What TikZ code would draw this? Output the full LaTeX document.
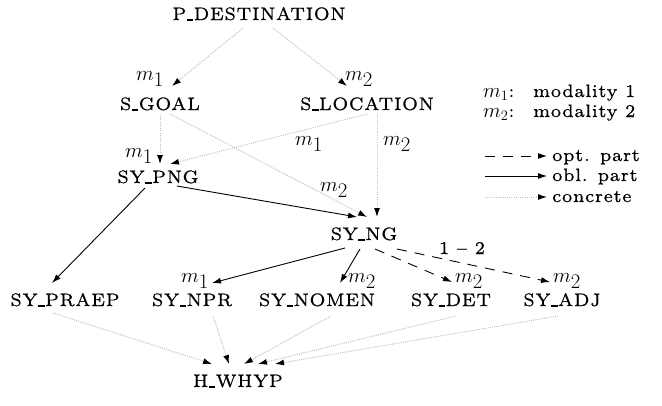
\documentclass[tikz,border=0pt]{standalone}
\usepackage{fontspec}
\newfontfamily\labfont{lmroman7-regular.otf}[LetterSpace=4,FakeBold=0.6]
\newcommand\us{\kern0.5pt\rule[-0.6pt]{6.5pt}{1.8pt}\kern0.5pt}
\usetikzlibrary{arrows.meta,calc}
\begin{document}
\begin{tikzpicture}[x=1pt,y=-1pt,
  lab/.style={font=\fontsize{18}{21}\labfont,inner sep=0pt,anchor=base},
  ml/.style={font=\fontsize{20}{24}\selectfont,inner sep=0pt,anchor=base},
  tip/.style={-{Latex[length=9pt,width=6pt,black]}},
  concr/.style={tip,draw=black!25,line width=1pt,dash pattern=on 1pt off 1.2pt},
  obl/.style={tip,draw=black,line width=0.9pt},
  opt/.style={tip,draw=black,line width=0.9pt,dash pattern=on 10pt off 8pt},
]
\useasboundingbox (0,0) rectangle (662,405);
% nodes
\node[lab] (P) at (259,20) {P\us DESTINATION};
\node[lab] (G) at (160,110) {S\us GOAL};
\node[lab] (L) at (367,110) {S\us LOCATION};
\node[lab] (PNG) at (158,183) {SY\us PNG};
\node[lab] (NG) at (364,240) {SY\us NG};
\node[lab] (PR) at (65,306) {SY\us PRAEP};
\node[lab] (NPR) at (192,306) {SY\us NPR};
\node[lab] (NOM) at (317,306) {SY\us NOMEN};
\node[lab] (DET) at (451,306) {SY\us DET};
\node[lab] (ADJ) at (562,306) {SY\us ADJ};
\node[lab] (H) at (238,387) {H\us WHYP};
% edges
\draw[concr] ($(P.base)+(-16,8)$) -- ($(G.base)+(12,-24)$);
\draw[concr] ($(P.base)+(14,8)$) -- ($(L.base)+(-20,-24)$);
\draw[concr] ($(G.base)+(0,5)$) -- ($(PNG.base)+(2,-19)$);
\draw[concr] ($(L.base)+(0,4)$) -- ($(PNG.base)+(12,-19)$);
\draw[concr] ($(G.base)+(10,4)$) -- ($(NG.base)+(3,-23)$);
\draw[concr] ($(L.base)+(10,3)$) -- ($(NG.base)+(13,-23)$);
\draw[obl] ($(PNG.base)+(19,3)$) -- ($(NG.base)+(-7,-23)$);
\draw[obl] ($(PNG.base)+(-13,5)$) -- ($(PR.base)+(-13,-23)$);
\draw[obl] ($(NG.base)+(-19,8)$) -- ($(NPR.base)+(20,-23)$);
\draw[obl] ($(NG.base)+(-4,9)$) -- ($(NOM.base)+(23,-23)$);
\draw[opt] ($(NG.base)+(11,9)$) -- ($(DET.base)+(1,-24)$);
\draw[opt] ($(NG.base)+(33,9)$) -- ($(ADJ.base)+(-12,-24)$);
\draw[concr] ($(PR.base)+(-12,7)$) -- ($(H.base)+(-26,-23)$);
\draw[concr] ($(NPR.base)+(21,10)$) -- ($(H.base)+(-9,-23)$);
\draw[concr] ($(NOM.base)+(14,10)$) -- ($(H.base)+(6,-23)$);
\draw[concr] ($(DET.base)+(5,10)$) -- ($(H.base)+(20,-23)$);
\draw[concr] ($(ADJ.base)+(-4,10)$) -- ($(H.base)+(37,-23)$);
% edge labels
\node[ml] (l1) at (150,80) {$m_{\textstyle 1}$};
\node[ml] (l2) at (359,80) {$m_{\textstyle 2}$};
\node[ml] (l3) at (139,157) {$m_{\textstyle 1}$};
\node[ml] (l4) at (309,145) {$m_{\textstyle 1}$};
\node[ml] (l5) at (397,145) {$m_{\textstyle 2}$};
\node[ml] (l6) at (334,191) {$m_{\textstyle 2}$};
\node[ml] (l7) at (195,282) {$m_{\textstyle 1}$};
\node[ml] (l8) at (362,282) {$m_{\textstyle 2}$};
\node[ml] (l9) at (469,282) {$m_{\textstyle 2}$};
\node[ml] (l10) at (567,282) {$m_{\textstyle 2}$};
\node[lab] (l11) at (462,254) {1 – 2};
% legend
\node[ml,anchor=base west] (k1) at (483,97) {$m_1$\labfont\fontsize{18}{21}\selectfont:};
\node[lab,anchor=base west] (k1t) at (533,97) {modality 1};
\node[ml,anchor=base west] (k2) at (483,117) {$m_2$\labfont\fontsize{18}{21}\selectfont:};
\node[lab,anchor=base west] (k2t) at (533,117) {modality 2};
\node[lab,anchor=base west] (t1) at (552,161) {opt. part};
\node[lab,anchor=base west] (t2) at (552,181) {obl. part};
\node[lab,anchor=base west] (t3) at (552,202) {concrete};
\coordinate (s1) at (485,156);
\coordinate (s2) at (485,176);
\coordinate (s3) at (485,197);
\draw[opt,shorten >=5pt] (s1) -- (s1 -| t1.west);
\draw[obl,shorten >=5pt] (s2) -- (s2 -| t2.west);
\draw[concr,shorten >=5pt] (s3) -- (s3 -| t3.west);
\end{tikzpicture}
\end{document}
